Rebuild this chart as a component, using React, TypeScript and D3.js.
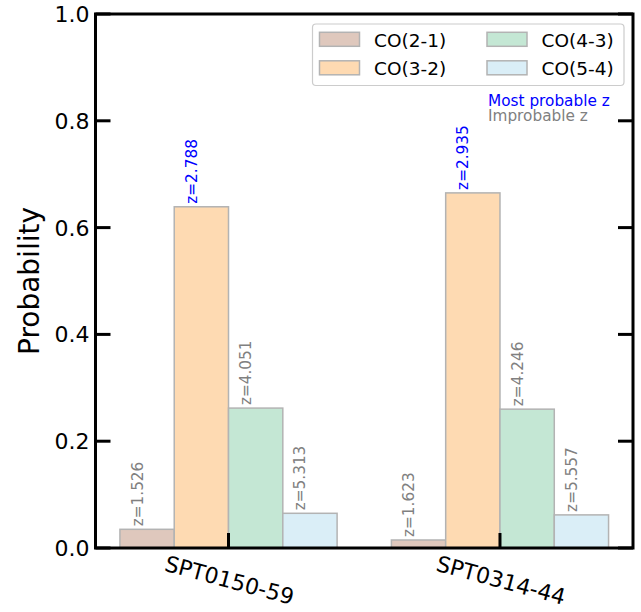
import React from "react";
import * as d3 from "d3";

const sources = ["SPT0150-59", "SPT0314-44"];
const transitions = ["CO(2-1)", "CO(3-2)", "CO(4-3)", "CO(5-4)"];
const probCO21 = [0.035, 0.015];
const probCO32 = [0.639, 0.665];
const probCO43 = [0.262, 0.26];
const probCO54 = [0.065, 0.062];
const zCO21 = ["1.526", "1.623"];
const zCO32 = ["2.788", "2.935"];
const zCO43 = ["4.051", "4.246"];
const zCO54 = ["5.313", "5.557"];
const mostProbable = ["CO(3-2)", "CO(3-2)"];
const yTicks = [0, 0.2, 0.4, 0.6, 0.8, 1.0];

const colors = ["#dfc8bd", "#fedab2", "#c4e7d4", "#daeef7"];
const FONT = "DejaVu Sans, sans-serif";

export default function App() {
  const W = 641, H = 612;
  const left = 95.5, right = 633, top = 14, bottom = 548;
  const x = d3.scaleLinear().domain([-0.49, 1.49]).range([left, right]);
  const y = d3.scaleLinear().domain([0, 1]).range([bottom, top]);
  const barW = 0.2;
  const probs = [probCO21, probCO32, probCO43, probCO54];
  const zs = [zCO21, zCO32, zCO43, zCO54];

  const bars: any[] = [];
  const labels: any[] = [];
  sources.forEach((s, gi) => {
    transitions.forEach((t, ti) => {
      const cx = gi + (ti - 1.5) * barW;
      const x0 = x(cx - barW / 2), x1 = x(cx + barW / 2);
      const v = probs[ti][gi];
      bars.push(
        <rect key={`b${gi}${ti}`} x={x0} y={y(v)} width={x1 - x0} height={y(0) - y(v)}
          fill={colors[ti]} stroke="#b3b3b3" strokeWidth={1.5} />
      );
      const bx = x(cx) - 4.5, by = y(v) - 3;
      labels.push(
        <text key={`l${gi}${ti}`} transform={`translate(${bx},${by}) rotate(-90)`}
          fontSize={15.3} fontFamily={FONT}
          fill={mostProbable[gi] === t ? "#0000ff" : "#808080"}>{`z=${zs[ti][gi]}`}</text>
      );
    });
  });

  const legendX = 312.5, legendY = 24;
  const legendItems = [
    { i: 0, col: 0, row: 0 }, { i: 1, col: 0, row: 1 },
    { i: 2, col: 1, row: 0 }, { i: 3, col: 1, row: 1 },
  ];

  return (
    <svg width={W} height={H} style={{ position: "absolute", left: 0, top: 0, background: "#fff" }}>
      <rect x={0} y={0} width={W} height={H} fill="#fff" />
      {bars}
      {labels}
      {/* y ticks */}
      {yTicks.map((t) => (
        <g key={`yt${t}`}>
          <line x1={left} x2={left + 15} y1={y(t)} y2={y(t)} stroke="#000" strokeWidth={3} />
          <line x1={right} x2={right - 15} y1={y(t)} y2={y(t)} stroke="#000" strokeWidth={3} />
          <text x={89.5} y={y(t)} dy="0.36em" textAnchor="end" fontSize={22} fontFamily={FONT}>{t.toFixed(1)}</text>
        </g>
      ))}
      {/* x ticks */}
      {sources.map((s, gi) => (
        <g key={`xt${gi}`}>
          <line x1={x(gi)} x2={x(gi)} y1={bottom} y2={bottom - 15} stroke="#000" strokeWidth={3} />
          <text transform={`translate(${x(gi) + 1},${580}) rotate(15)`} textAnchor="middle" dy="0.36em"
            fontSize={22} fontFamily={FONT}>{s}</text>
        </g>
      ))}
      {/* frame */}
      <rect x={left} y={top} width={right - left} height={bottom - top} fill="none" stroke="#000" strokeWidth={3} />
      <text transform={`translate(38.5,281) rotate(-90)`} textAnchor="middle" fontSize={28} fontFamily={FONT}>Probability</text>
      {/* legend */}
      <rect x={legendX} y={legendY} width={311.5} height={61.5} rx={3.5} fill="#fff" fillOpacity={0.8} stroke="#cccccc" strokeWidth={1.2} />
      {legendItems.map(({ i, col, row }) => {
        const px = col === 0 ? 319.5 : 487;
        const py = row === 0 ? 32.3 : 60.8;
        return (
          <g key={`lg${i}`}>
            <rect x={px} y={py} width={40} height={14} fill={colors[i]} stroke="#b3b3b3" strokeWidth={1.5} />
            <text x={px + 54.5} y={py + 14.3} fontSize={18.5} fontFamily={FONT}>{transitions[i]}</text>
          </g>
        );
      })}
      <text x={488} y={105.5} fontSize={15.3} fontFamily={FONT} fill="#0000ff">Most probable z</text>
      <text x={488} y={120.5} fontSize={15.3} fontFamily={FONT} fill="#808080">Improbable z</text>
    </svg>
  );
}
